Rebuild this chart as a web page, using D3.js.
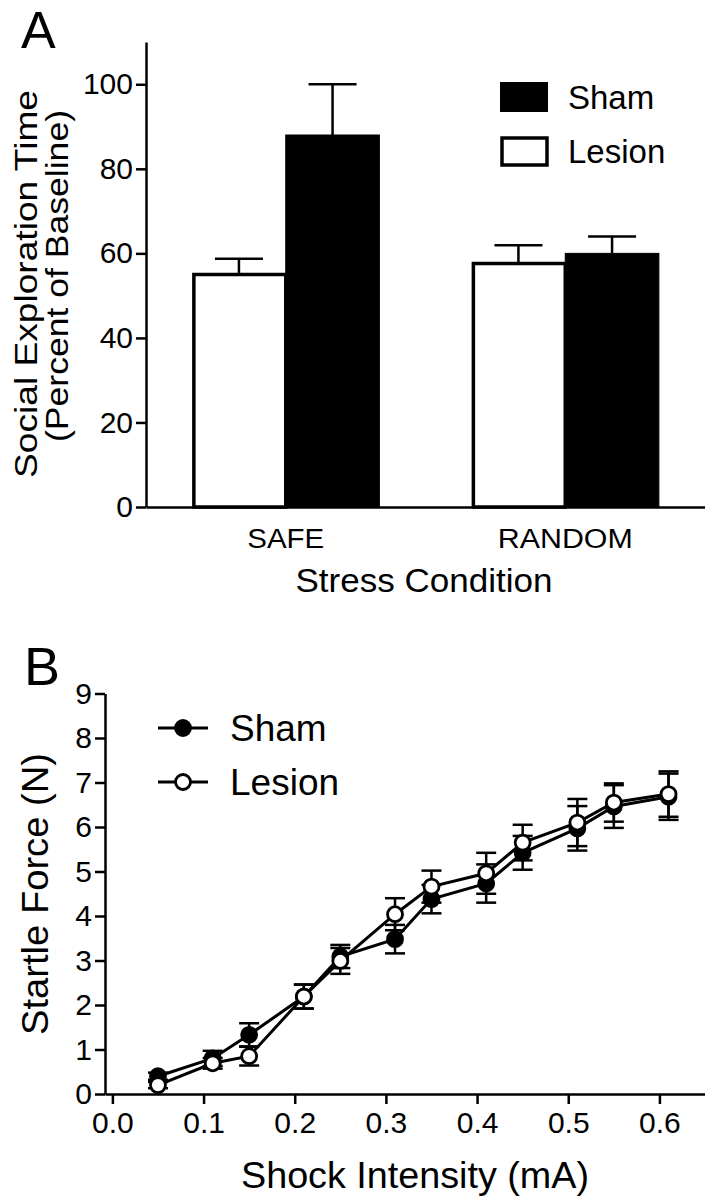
<!DOCTYPE html>
<html><head><meta charset="utf-8">
<script src="https://cdn.jsdelivr.net/npm/d3@7"></script>
<style>
html,body{margin:0;padding:0;background:#fff;}
svg{display:block;font-family:"Liberation Sans",Arial,Helvetica,sans-serif;}
</style></head><body>
<svg id="chart" width="705" height="1199"></svg>
<script>
// ---------- Panel A data ----------
const categoriesA = ["SAFE", "RANDOM"];
const seriesA = ["Lesion", "Sham"];
const lesionMeanA = [55, 57.6];
const lesionErrA = [3.7, 4.3];
const shamMeanA = [88, 60];
const shamErrA = [12, 4];
const yTicksA = [0, 20, 40, 60, 80, 100];
const legendA = ["Sham", "Lesion"];

// ---------- Panel B data ----------
const shockB = [0.05, 0.11, 0.15, 0.21, 0.25, 0.31, 0.35, 0.41, 0.45, 0.51, 0.55, 0.61];
const shamMeanB = [0.40, 0.80, 1.33, 2.19, 3.09, 3.48, 4.38, 4.73, 5.42, 5.97, 6.46, 6.68];
const shamErrB = [0.08, 0.17, 0.26, 0.27, 0.26, 0.32, 0.32, 0.43, 0.38, 0.50, 0.48, 0.52];
const lesionMeanB = [0.20, 0.69, 0.85, 2.19, 2.99, 4.04, 4.66, 4.96, 5.65, 6.10, 6.55, 6.74];
const lesionErrB = [0.07, 0.12, 0.21, 0.27, 0.29, 0.36, 0.36, 0.46, 0.40, 0.53, 0.43, 0.51];
const yTicksB = [0, 1, 2, 3, 4, 5, 6, 7, 8, 9];
const xTicksB = [0, 0.1, 0.2, 0.3, 0.4, 0.5, 0.6];
const legendB = ["Sham", "Lesion"];

const svg = d3.select("#chart");
const INK = "#000";

function label(g, txt, x, y, size, opts = {}) {
  const t = g.append("text").text(txt)
    .attr("x", x).attr("y", y)
    .attr("font-size", size)
    .attr("fill", INK)
    .attr("text-anchor", opts.anchor || "start");
  if (opts.len) t.attr("textLength", opts.len).attr("lengthAdjust", "spacingAndGlyphs");
  if (opts.rotate) t.attr("transform", `rotate(${opts.rotate})`);
  return t;
}

// =============== PANEL A ===============
const gA = svg.append("g");
const A = { left: 146, right: 705, top: 42, bottom: 507 };
const xA = d3.scaleBand().domain(categoriesA).range([A.left, A.right])
  .paddingInner(0.33).paddingOuter(0.165);
const xAin = d3.scaleBand().domain(seriesA).range([0, xA.bandwidth()]);
const yA = d3.scaleLinear().domain([0, 110]).range([A.bottom, A.top]);

const barsA = categoriesA.flatMap((c, i) => [
  { cat: c, ser: "Lesion", v: lesionMeanA[i], e: lesionErrA[i] },
  { cat: c, ser: "Sham", v: shamMeanA[i], e: shamErrA[i] }
]);

// error bars (upward)
const ebA = gA.append("g").attr("stroke", INK).attr("stroke-width", 2.5);
barsA.forEach(d => {
  const cx = xA(d.cat) + xAin(d.ser) + xAin.bandwidth() / 2;
  ebA.append("line").attr("x1", cx).attr("x2", cx)
    .attr("y1", yA(d.v)).attr("y2", yA(d.v + d.e));
  ebA.append("line").attr("x1", cx - 24).attr("x2", cx + 24)
    .attr("y1", yA(d.v + d.e)).attr("y2", yA(d.v + d.e));
});

// bars: draw sham first, lesion on top so its outline is visible
gA.append("g").selectAll("rect")
  .data(barsA.slice().sort((a, b) => (a.ser === "Sham" ? -1 : 1)))
  .join("rect")
  .attr("x", d => xA(d.cat) + xAin(d.ser) + (d.ser === "Lesion" ? 1.75 : 0))
  .attr("width", d => xAin.bandwidth() - (d.ser === "Lesion" ? 1.75 : 0))
  .attr("y", d => yA(d.v))
  .attr("height", d => yA(0) - yA(d.v))
  .attr("fill", d => d.ser === "Sham" ? INK : "#fff")
  .attr("stroke", INK)
  .attr("stroke-width", d => d.ser === "Sham" ? 1 : 3.5);

// y axis A
const yAxisA = gA.append("g").attr("transform", `translate(${A.left},0)`)
  .call(d3.axisLeft(yA).tickValues(yTicksA).tickSize(10).tickPadding(3).tickSizeOuter(0));
yAxisA.select(".domain").attr("stroke", INK).attr("stroke-width", 2.5);
yAxisA.selectAll(".tick line").attr("stroke", INK).attr("stroke-width", 2.5);
yAxisA.selectAll(".tick text").attr("font-size", 30).attr("fill", INK)
  .attr("font-family", "Liberation Sans, Arial, sans-serif");

// x axis A
const xAxisA = gA.append("g").attr("transform", `translate(0,${A.bottom})`)
  .call(d3.axisBottom(xA).tickSize(0).tickSizeOuter(0));
xAxisA.select(".domain").attr("stroke", INK).attr("stroke-width", 2.5);
xAxisA.selectAll(".tick text").attr("font-size", 27).attr("fill", INK)
  .attr("font-family", "Liberation Sans, Arial, sans-serif")
  .attr("y", 41).attr("dy", 0)
  .attr("lengthAdjust", "spacingAndGlyphs")
  .attr("textLength", d => d === "SAFE" ? 77 : 135);

// axis titles A
label(gA, "Stress Condition", 424, 592, 33, { anchor: "middle", len: 257 });
label(gA, "Social Exploration Time", -284, 37, 31, { anchor: "middle", rotate: -90, len: 388 });
label(gA, "(Percent of Baseline)", -276, 68, 31, { anchor: "middle", rotate: -90, len: 332 });

// panel letter
label(gA, "A", 21, 48, 52);

// legend A
const legA = gA.append("g");
legendA.forEach((name, i) => {
  const y0 = 82 + i * 54;
  legA.append("rect")
    .attr("x", name === "Sham" ? 500 : 502).attr("y", name === "Sham" ? y0 : y0 + 2)
    .attr("width", name === "Sham" ? 48 : 45).attr("height", name === "Sham" ? 30 : 27)
    .attr("fill", name === "Sham" ? INK : "#fff")
    .attr("stroke", INK).attr("stroke-width", name === "Sham" ? 0 : 3.5);
  label(legA, name, 568, y0 + 27, 33);
});

// =============== PANEL B ===============
const gB = svg.append("g");
const B = { left: 105, right: 705, top: 693.5, bottom: 1094 };
const xB = d3.scaleLinear().domain([-0.0081, 0.65]).range([B.left, B.right]);
const yB = d3.scaleLinear().domain([0, 9]).range([B.bottom, B.top]);

// x axis B
const xAxisB = gB.append("g").attr("transform", `translate(0,${B.bottom})`)
  .call(d3.axisBottom(xB).tickValues(xTicksB).tickFormat(d3.format(".1f"))
    .tickSize(10).tickPadding(6).tickSizeOuter(0));
xAxisB.select(".domain").attr("stroke", INK).attr("stroke-width", 2.5);
xAxisB.selectAll(".tick line").attr("stroke", INK).attr("stroke-width", 2.5);
xAxisB.selectAll(".tick text").attr("font-size", 30).attr("fill", INK)
  .attr("font-family", "Liberation Sans, Arial, sans-serif")
  .attr("y", 39).attr("dy", 0);

// y axis B
const yAxisB = gB.append("g").attr("transform", `translate(${B.left},0)`)
  .call(d3.axisLeft(yB).tickValues(yTicksB).tickSize(10).tickPadding(3).tickSizeOuter(0));
yAxisB.select(".domain").attr("stroke", INK).attr("stroke-width", 2.5);
yAxisB.selectAll(".tick line").attr("stroke", INK).attr("stroke-width", 2.5);
yAxisB.selectAll(".tick text").attr("font-size", 30).attr("fill", INK)
  .attr("font-family", "Liberation Sans, Arial, sans-serif");

// series B
const seriesB = [
  { name: "Sham", mean: shamMeanB, err: shamErrB, fill: INK },
  { name: "Lesion", mean: lesionMeanB, err: lesionErrB, fill: "#fff" }
];
const line = d3.line().x(d => xB(d.x)).y(d => yB(d.y));
seriesB.forEach(s => {
  const pts = shockB.map((x, i) => ({ x, y: s.mean[i], e: s.err[i] }));
  gB.append("path").datum(pts).attr("d", line)
    .attr("fill", "none").attr("stroke", INK).attr("stroke-width", 3);
});
seriesB.forEach(s => {
  const pts = shockB.map((x, i) => ({ x, y: s.mean[i], e: s.err[i] }));
  const eg = gB.append("g").attr("stroke", INK).attr("stroke-width", 2.5);
  pts.forEach(p => {
    const cx = xB(p.x);
    eg.append("line").attr("x1", cx).attr("x2", cx).attr("y1", yB(p.y - p.e)).attr("y2", yB(p.y + p.e));
    [p.y - p.e, p.y + p.e].forEach(v => {
      eg.append("line").attr("x1", cx - 10).attr("x2", cx + 10).attr("y1", yB(v)).attr("y2", yB(v));
    });
  });
});
seriesB.forEach(s => {
  const pts = shockB.map((x, i) => ({ x, y: s.mean[i] }));
  gB.append("g").selectAll("circle").data(pts).join("circle")
    .attr("cx", d => xB(d.x)).attr("cy", d => yB(d.y)).attr("r", 7.5)
    .attr("fill", s.fill).attr("stroke", INK).attr("stroke-width", 2.8);
});

// legend B
legendB.forEach((name, i) => {
  const y0 = 728 + i * 54;
  gB.append("line").attr("x1", 158).attr("x2", 208).attr("y1", y0).attr("y2", y0)
    .attr("stroke", INK).attr("stroke-width", 3);
  gB.append("circle").attr("cx", 183).attr("cy", y0).attr("r", 7.5)
    .attr("fill", name === "Sham" ? INK : "#fff").attr("stroke", INK).attr("stroke-width", 2.8);
  label(gB, name, 230, y0 + 13, 37);
});

// titles B
label(gB, "Shock Intensity (mA)", 415, 1188, 36, { anchor: "middle", len: 348 });
label(gB, "Startle Force (N)", -894, 48, 37, { anchor: "middle", rotate: -90, len: 282 });
label(gB, "B", 24, 685, 54);
</script>
</body></html>
